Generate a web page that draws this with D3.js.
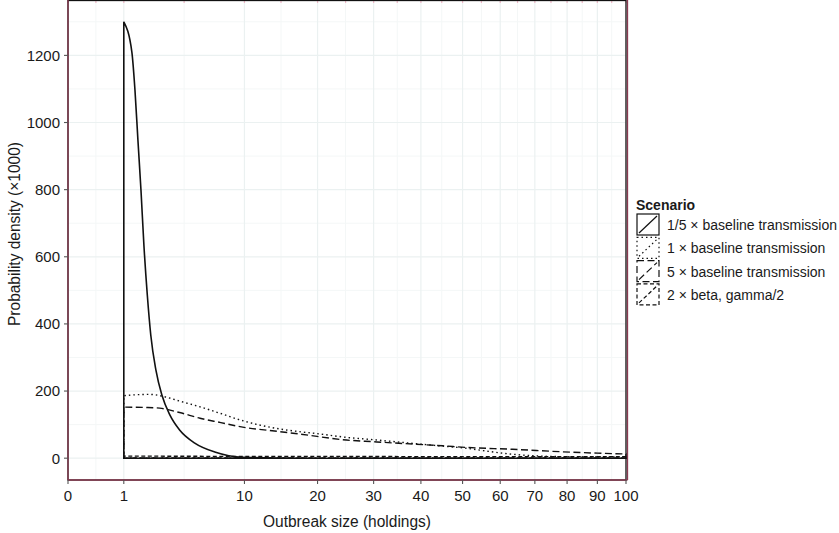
<!DOCTYPE html>
<html><head><meta charset="utf-8">
<script src="https://cdn.jsdelivr.net/npm/d3@7"></script>
<style>body{margin:0;background:#fff}svg{display:block}text{font-family:"Liberation Sans",Arial,sans-serif;fill:#1a1a1a}</style>
</head><body>
<svg id="c" width="839" height="533"></svg>
<script>
// ---- data ----
const scenarios = ["1/5 \u00d7 baseline transmission","1 \u00d7 baseline transmission","5 \u00d7 baseline transmission","2 \u00d7 beta, gamma/2"];
const s1Size = [1, 1.31, 1.44, 1.57, 1.71, 1.85, 2.02, 2.2, 2.48, 2.83, 3.33, 4.0, 5.16, 6.92, 9.8, 14, 20, 40, 70, 100];
const s1Dens = [1300, 1210, 1097, 948, 799, 635, 486, 367, 263, 188, 129, 84, 45, 18.5, 2.7, 0.6, 0, 0, 0, 0];
const s2Size = [1, 1.5, 2.15, 3.0, 4, 5.6, 7.5, 9.5, 14.4, 17.2, 20, 24.9, 30, 38.2, 45, 51, 57, 63.5, 70, 78.5, 88, 100];
const s2Dens = [186, 189, 190, 183, 170, 153, 133, 114, 87, 79, 73, 62, 55, 44, 36, 29.5, 20, 11.6, 7, 4.5, 4, 4];
const s3Size = [1, 2, 2.7, 4, 5.6, 7.5, 9.5, 14.4, 17.2, 24.9, 30, 38.2, 45, 51, 63.5, 78.5, 90, 100];
const s3Dens = [152, 151, 149, 136, 119, 106, 94, 79, 72, 54, 49, 42, 37, 32, 26.5, 19, 15, 12.5];
const s4Size = [1, 10, 30, 60, 100];
const s4Dens = [6, 5.5, 5, 4.7, 4.5];
const xTicks = [0, 1, 10, 20, 30, 40, 50, 60, 70, 80, 90, 100];
const yTicks = [0, 200, 400, 600, 800, 1000, 1200];
const yMinor = [100, 300, 500, 700, 900, 1100, 1300];

const series = [
  {name: scenarios[0], size: s1Size, dens: s1Dens, dash: null, w: 1.6},
  {name: scenarios[1], size: s2Size, dens: s2Dens, dash: "1.5,3", w: 1.4},
  {name: scenarios[2], size: s3Size, dens: s3Dens, dash: "7,3.5", w: 1.4},
  {name: scenarios[3], size: s4Size, dens: s4Dens, dash: "4,2.5", w: 1.3}
];

const svg = d3.select("#c");
const L = 68, R = 626, T = 0, B = 480;
const x = d3.scaleSqrt().domain([0, 100]).range([L, R]);
const y = d3.scaleLinear().domain([-65, 1365]).range([B, T]);

// minor x grid: midpoints in sqrt space
const xMinor = [];
for (let i = 0; i < xTicks.length - 1; i++) {
  const a = Math.sqrt(xTicks[i]), b = Math.sqrt(xTicks[i + 1]);
  xMinor.push(Math.pow((a + b) / 2, 2));
}

const grid = svg.append("g");
grid.selectAll(".ym").data(yMinor).join("line")
  .attr("x1", L).attr("x2", R).attr("y1", d => y(d)).attr("y2", d => y(d))
  .attr("stroke", "#f4f7f7").attr("stroke-width", 1);
grid.selectAll(".xm").data(xMinor).join("line")
  .attr("y1", T).attr("y2", B).attr("x1", d => x(d)).attr("x2", d => x(d))
  .attr("stroke", "#f4f7f7").attr("stroke-width", 1);
grid.selectAll(".yM").data(yTicks).join("line")
  .attr("x1", L).attr("x2", R).attr("y1", d => y(d)).attr("y2", d => y(d))
  .attr("stroke", "#ebf1f1").attr("stroke-width", 1.2);
grid.selectAll(".xM").data(xTicks).join("line")
  .attr("y1", T).attr("y2", B).attr("x1", d => x(d)).attr("x2", d => x(d))
  .attr("stroke", "#ebf1f1").attr("stroke-width", 1.2);
// small pink marks at top
grid.selectAll(".tp").data(xTicks.concat(xMinor)).join("line")
  .attr("y1", T).attr("y2", T + 3).attr("x1", d => x(d)).attr("x2", d => x(d))
  .attr("stroke", "#f2b8c8").attr("stroke-width", 1.2);

// density outlines
const curve = d3.line().x(d => x(d[0])).y(d => y(d[1])).curve(d3.curveMonotoneX);
const g = svg.append("g");
series.slice().reverse().forEach(s => {
  const pts = s.size.map((v, i) => [v, s.dens[i]]);
  const c = curve(pts);
  const first = pts[0], last = pts[pts.length - 1];
  const d = "M" + x(first[0]) + "," + y(0) + "L" + c.slice(1) +
            "L" + x(last[0]) + "," + y(0) + "Z";
  g.append("path").attr("d", d).attr("fill", "none")
    .attr("stroke", "#111").attr("stroke-width", s.w)
    .attr("stroke-dasharray", s.dash);
});

// panel border
svg.append("rect").attr("x", L).attr("y", T + 0.5).attr("width", R - L).attr("height", B - T - 0.5)
  .attr("fill", "none").attr("stroke", "#111").attr("stroke-width", 1.3);
const axc = "#8a3b52";
svg.append("line").attr("x1", L).attr("x2", L).attr("y1", T).attr("y2", B).attr("stroke", axc).attr("stroke-width", 1.3);
svg.append("line").attr("x1", R + 1.5).attr("x2", R + 1.5).attr("y1", T).attr("y2", B).attr("stroke", axc).attr("stroke-width", 1.3);
svg.append("line").attr("x1", L).attr("x2", R + 1.5).attr("y1", B).attr("y2", B).attr("stroke", axc).attr("stroke-width", 1.3);

// y axis ticks/labels
const ya = svg.append("g");
ya.selectAll("line").data(yTicks).join("line")
  .attr("x1", L - 4).attr("x2", L).attr("y1", d => y(d)).attr("y2", d => y(d))
  .attr("stroke", "#555").attr("stroke-width", 1.1);
ya.selectAll("text").data(yTicks).join("text")
  .attr("x", L - 8).attr("y", d => y(d)).attr("dy", "0.36em")
  .attr("text-anchor", "end").attr("font-size", 15).text(d => d);

// x axis ticks/labels
const xa = svg.append("g");
xa.selectAll("line").data(xTicks).join("line")
  .attr("y1", B).attr("y2", B + 4).attr("x1", d => x(d)).attr("x2", d => x(d))
  .attr("stroke", "#555").attr("stroke-width", 1.1);
xa.selectAll("text").data(xTicks).join("text")
  .attr("y", B + 21).attr("x", d => x(d))
  .attr("text-anchor", "middle").attr("font-size", 15).text(d => d);

// titles
svg.append("text").attr("x", 347).attr("y", 527).attr("text-anchor", "middle")
  .attr("font-size", 16).attr("textLength", 168).attr("lengthAdjust", "spacingAndGlyphs")
  .text("Outbreak size (holdings)");
svg.append("text").attr("transform", "translate(14,234) rotate(-90)")
  .attr("dy", "0.36em").attr("text-anchor", "middle").attr("font-size", 16)
  .attr("textLength", 184).attr("lengthAdjust", "spacingAndGlyphs")
  .text("Probability density (\u00d71000)");

// legend
const lg = svg.append("g");
lg.append("text").attr("x", 636).attr("y", 210).attr("font-size", 14).attr("font-weight", "bold").text("Scenario");
series.forEach((s, i) => {
  const ky = 214 + i * 23.3;
  lg.append("rect").attr("x", 637).attr("y", ky).attr("width", 22).attr("height", 21)
    .attr("fill", "none").attr("stroke", "#111").attr("stroke-width", 1.2).attr("stroke-dasharray", s.dash);
  lg.append("line").attr("x1", 639).attr("y1", ky + 19).attr("x2", 657).attr("y2", ky + 2)
    .attr("stroke", "#111").attr("stroke-width", 1.2).attr("stroke-dasharray", s.dash);
  lg.append("text").attr("x", 667).attr("y", ky + 11).attr("dy", "0.36em")
    .attr("font-size", 14).text(s.name);
});
</script>
</body></html>
